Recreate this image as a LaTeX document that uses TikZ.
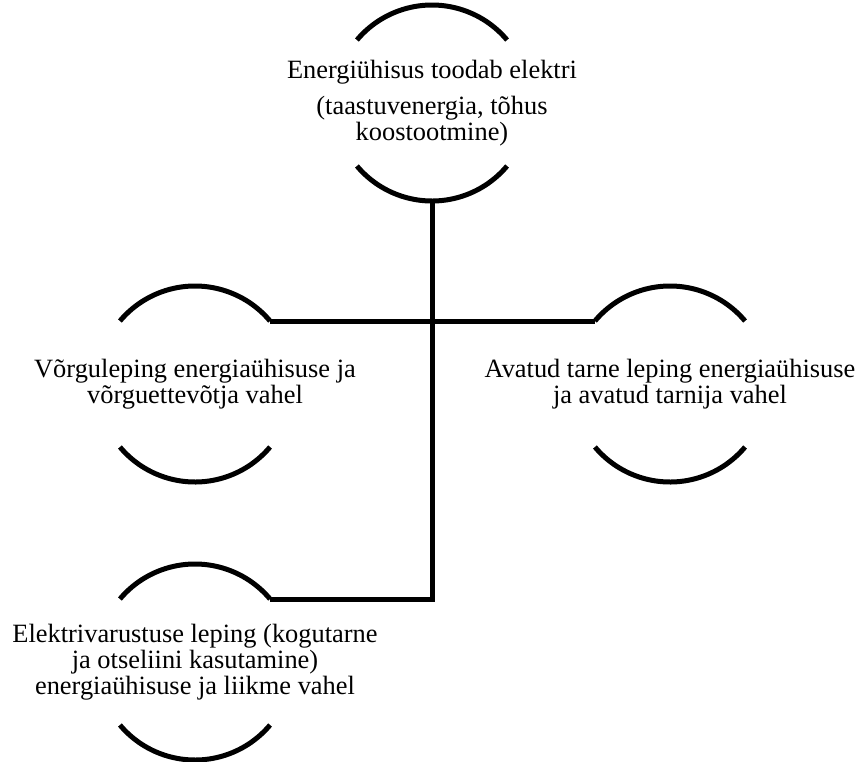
\documentclass[tikz,border=0pt]{standalone}
\usepackage{fontspec}
\setmainfont{Liberation Serif}
\tikzset{
    ring-node/.style = {circle, minimum size=98pt, inner sep=0pt, outer sep=0pt},
    ring-text/.style = {align=center, inner sep=0pt, font=\fontsize{13.2}{13}\selectfont},
    ring-arc/.style = {line width=2.5pt},
    link/.style = {line width=2.5pt},
}

\begin{document}
\begin{tikzpicture}[x=0.5pt, y=-0.5pt]
\useasboundingbox (0,0) rectangle (859,762);
\node[ring-node] (produce) at (432,103) {};
\node[ring-node] (grid) at (195,384) {};
\node[ring-node] (supply) at (670,384) {};
\node[ring-node] (member) at (195,662) {};
\foreach \r in {produce, grid, supply, member} {
    \draw[ring-arc] (\r.40) arc[start angle=40, end angle=140, radius=49pt];
    \draw[ring-arc] (\r.220) arc[start angle=220, end angle=320, radius=49pt];
}
\node[ring-text] (produce-text) at (produce) {Energiühisus toodab elektri\\[5pt](taastuvenergia, tõhus\\koostootmine)};
\node[ring-text] (grid-text) at (grid) {Võrguleping energiaühisuse ja\\võrguettevõtja vahel};
\node[ring-text] (supply-text) at (supply) {Avatud tarne leping energiaühisuse\\ja avatud tarnija vahel};
\node[ring-text] (member-text) at (member) {Elektrivarustuse leping (kogutarne\\ja otseliini kasutamine)\\energiaühisuse ja liikme vahel};
\draw[link] (grid.40) -- (supply.140);
\draw[link] (produce.south) -- (produce.south |- member.40) -- (member.40);
\end{tikzpicture}
\end{document}
